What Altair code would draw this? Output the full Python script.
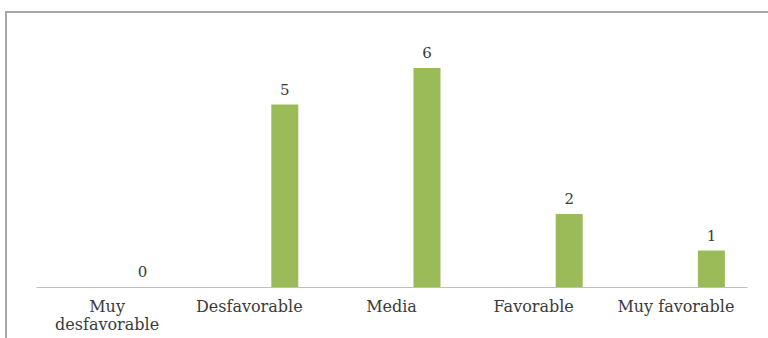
import altair as alt
import pandas as pd

categories = ["Muy desfavorable", "Desfavorable", "Media", "Favorable", "Muy favorable"]
values = [0, 5, 6, 2, 1]

df = pd.DataFrame({"cat": categories, "val": values})

FONT = "DejaVu Serif"
TXT = "#3A3A3A"
x_enc = alt.X(
    "cat:N",
    sort=categories,
    scale=alt.Scale(paddingInner=0, paddingOuter=0),
    axis=alt.Axis(
        title=None,
        labelAngle=0,
        ticks=False,
        domainColor="#BFBFBF",
        domainWidth=1.2,
        labelFont=FONT,
        labelFontSize=16,
        labelColor=TXT,
        labelPadding=11,
        labelBaseline="top",
        labelLineHeight=18,
        labelExpr="datum.label == 'Muy desfavorable' ? ['Muy', 'desfavorable'] : datum.label",
    ),
)
y_enc = alt.Y("val:Q", scale=alt.Scale(domain=[0, 7], nice=False, zero=True), axis=None)

base = alt.Chart(df)

bars = base.mark_bar(color="#9BBB59", width=27, xOffset=35.5).encode(x=x_enc, y=y_enc)
labels = base.mark_text(
    font=FONT, fontSize=15, color=TXT, dx=35.5, dy=-10, baseline="alphabetic"
).encode(x=x_enc, y=y_enc, text="val:Q")

frame = alt.Chart(df).mark_rect(fill=None, stroke="#A6A6A6", strokeWidth=1.5).encode(
    x=alt.value(-30), x2=alt.value(800), y=alt.value(-19.5), y2=alt.value(400)
)

chart = alt.layer(frame, bars, labels).properties(
    width=711,
    height=255.5,
    padding={"left": 36, "top": 31.5, "right": 21, "bottom": 51},
    autosize=alt.AutoSizeParams(type="none"),
    background="white",
).configure_view(stroke=None)

chart.save("out.html", embed_options={"renderer": "svg", "actions": False})
